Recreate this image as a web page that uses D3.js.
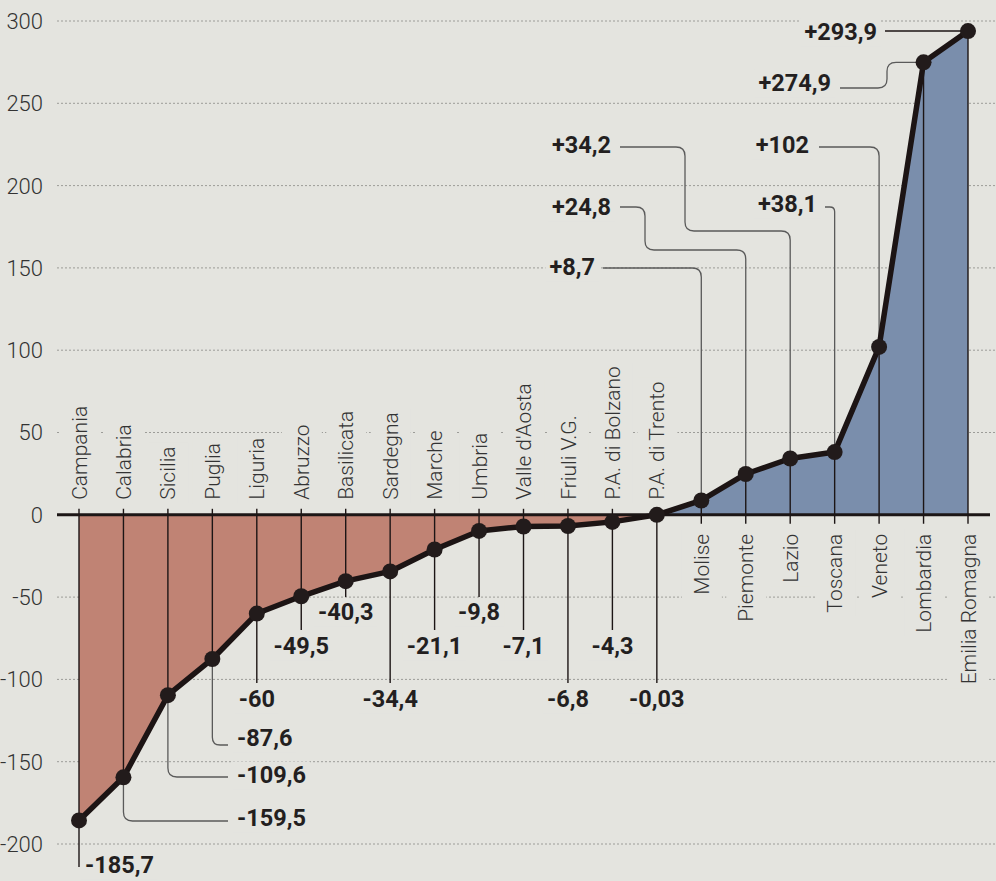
<!DOCTYPE html>
<html>
<head>
<meta charset="utf-8">
<title>Regioni</title>
<style>
  body { margin: 0; background: #e4e4df; }
  svg { display: block; }
  .ytick { font-family: Roboto, sans-serif; font-weight: 300; font-size: 22px; fill: #333; }
  .cat { font-family: Roboto, sans-serif; font-weight: 300; font-size: 21px; fill: #333; }
  .val { font-family: Roboto, sans-serif; font-weight: 700; font-size: 23.5px; fill: #231f1f; }
</style>
</head>
<body>
<div id="chart"></div>
<script src="https://d3js.org/d3.v7.min.js"></script>
<script>

// data
var regions = ["Campania", "Calabria", "Sicilia", "Puglia", "Liguria", "Abruzzo", "Basilicata",
  "Sardegna", "Marche", "Umbria", "Valle d'Aosta", "Friuli V.G.", "P.A. di Bolzano", "P.A. di Trento",
  "Molise", "Piemonte", "Lazio", "Toscana", "Veneto", "Lombardia", "Emilia Romagna"];
var values = [-185.7, -159.5, -109.6, -87.6, -60, -49.5, -40.3, -34.4, -21.1, -9.8, -7.1, -6.8, -4.3, -0.03,
  8.7, 24.8, 34.2, 38.1, 102, 274.9, 293.9];
var valueLabels = ["-185,7", "-159,5", "-109,6", "-87,6", "-60", "-49,5", "-40,3", "-34,4", "-21,1", "-9,8",
  "-7,1", "-6,8", "-4,3", "-0,03", "+8,7", "+24,8", "+34,2", "+38,1", "+102", "+274,9", "+293,9"];
var yTicks = [-200, -150, -100, -50, 0, 50, 100, 150, 200, 250, 300];

// annotation layout (pixels): leader path after the point, text position and anchor
var notes = [
  {path: [[0, 867]], tx: 85, ty: 865, anchor: "start", dark: true},
  {path: [[0, 821], [228, 821]], tx: 237, ty: 818, anchor: "start"},
  {path: [[0, 777], [228, 777]], tx: 237, ty: 775, anchor: "start"},
  {path: [[0, 745], [228, 745]], tx: 237, ty: 738, anchor: "start"},
  {path: [[0, 683]], ty: 699, anchor: "middle", dark: true},
  {path: [[0, 630]], ty: 646, anchor: "middle", dark: true},
  {path: [[0, 597]], ty: 612, anchor: "middle", dark: true},
  {path: [[0, 683]], ty: 699, anchor: "middle", dark: true},
  {path: [[0, 630]], ty: 646, anchor: "middle", dark: true},
  {path: [[0, 597]], ty: 612, anchor: "middle", dark: true},
  {path: [[0, 630]], ty: 646, anchor: "middle", dark: true},
  {path: [[0, 683]], ty: 699, anchor: "middle", dark: true},
  {path: [[0, 630]], ty: 646, anchor: "middle", dark: true},
  {path: [[0, 683]], ty: 699, anchor: "middle", dark: true},
  {path: [[0, 268], [603, 268]], tx: 595, ty: 267, anchor: "end"},
  {path: [[0, 250], [645, 250], [645, 207], [620, 207]], tx: 611, ty: 207, anchor: "end"},
  {path: [[0, 231], [685, 231], [685, 147], [620, 147]], tx: 611, ty: 145, anchor: "end"},
  {path: [[0, 207], [825, 207]], tx: 817, ty: 204, anchor: "end"},
  {path: [[0, 147], [819, 147]], tx: 809, ty: 145, anchor: "end"},
  {path: [[887, null], [887, 88], [840, 88]], tx: 831, ty: 83, anchor: "end"},
  {path: [[885, null]], tx: 877, ty: 32, anchor: "end", dark: true}
];

var width = 996, height = 881;

var svg = d3.select("#chart").append("svg")
  .attr("width", width)
  .attr("height", height);

svg.append("rect").attr("width", width).attr("height", height).attr("fill", "#e4e4df");

var x = d3.scalePoint().domain(regions).range([79, 968]);
var y = d3.scaleLinear().domain([-200, 300]).range([844, 21]);

var data = regions.map(function(r, i){ return {name: r, v: values[i], label: valueLabels[i], note: notes[i]}; });

// grid
svg.selectAll(".grid")
  .data(yTicks.filter(function(d){ return d !== 0; }))
  .enter().append("line")
  .attr("x1", 57).attr("x2", width)
  .attr("y1", function(d){ return y(d); })
  .attr("y2", function(d){ return y(d); })
  .attr("stroke", "#9c9c98")
  .attr("stroke-width", 1)
  .attr("stroke-dasharray", "2,2");

svg.selectAll(".ytick")
  .data(yTicks)
  .enter().append("text")
  .attr("class", "ytick")
  .attr("x", 43)
  .attr("y", function(d){ return y(d); })
  .attr("dy", "0.36em")
  .attr("text-anchor", "end")
  .text(function(d){ return d; });

// label layer (boxes hide grid)
var labelLayer = svg.append("g");

// areas
var area = d3.area()
  .x(function(d){ return x(d.name); })
  .y0(y(0))
  .y1(function(d){ return y(d.v); });

svg.append("path").datum(data.slice(0, 14))
  .attr("d", area).attr("fill", "#c08374");
svg.append("path").datum(data.slice(13))
  .attr("d", area).attr("fill", "#7a8eac");

// vertical lines from axis to each point
svg.selectAll(".stem")
  .data(data)
  .enter().append("line")
  .attr("x1", function(d){ return x(d.name); })
  .attr("x2", function(d){ return x(d.name); })
  .attr("y1", function(d){ return d.v < 0 ? y(0) - 6 : y(0) + 9; })
  .attr("y2", function(d){ return y(d.v); })
  .attr("stroke", "#1c1515")
  .attr("stroke-width", 1.4);

// zero line
svg.append("line")
  .attr("x1", 57).attr("x2", 990)
  .attr("y1", y(0)).attr("y2", y(0))
  .attr("stroke", "#1c1616")
  .attr("stroke-width", 3);

// leaders with rounded corners
function rounded(pts, r){
  var s = "M" + pts[0][0] + "," + pts[0][1];
  for (var i = 1; i < pts.length - 1; i++){
    var p0 = pts[i-1], p1 = pts[i], p2 = pts[i+1];
    var d1 = Math.hypot(p1[0]-p0[0], p1[1]-p0[1]), d2 = Math.hypot(p2[0]-p1[0], p2[1]-p1[1]);
    var rr = Math.min(r, d1/2, d2/2);
    var a = [p1[0] - (p1[0]-p0[0]) / d1 * rr, p1[1] - (p1[1]-p0[1]) / d1 * rr];
    var b = [p1[0] + (p2[0]-p1[0]) / d2 * rr, p1[1] + (p2[1]-p1[1]) / d2 * rr];
    s += "L" + a[0] + "," + a[1] + "Q" + p1[0] + "," + p1[1] + " " + b[0] + "," + b[1];
  }
  var last = pts[pts.length - 1];
  return s + "L" + last[0] + "," + last[1];
}

svg.selectAll(".leader")
  .data(data)
  .enter().append("path")
  .attr("fill", "none")
  .attr("stroke", function(d){ return d.note.dark ? "#1c1515" : "#5a5a5a"; })
  .attr("stroke-width", function(d){ return d.note.dark ? 1.4 : 1.3; })
  .attr("d", function(d){
    var px = x(d.name), py = y(d.v);
    var pts = [[px, py]].concat(d.note.path.map(function(p){
      return [p[0] === 0 ? px : p[0], p[1] === null ? py : p[1]];
    }));
    return rounded(pts, 9);
  });

// line and points
var line = d3.line()
  .x(function(d){ return x(d.name); })
  .y(function(d){ return y(d.v); });

svg.append("path").datum(data)
  .attr("d", line)
  .attr("fill", "none")
  .attr("stroke", "#1c1414")
  .attr("stroke-width", 5.5)
  .attr("stroke-linejoin", "round");

svg.selectAll(".dot")
  .data(data)
  .enter().append("circle")
  .attr("cx", function(d){ return x(d.name); })
  .attr("cy", function(d){ return y(d.v); })
  .attr("r", 8)
  .attr("fill", "#221b1b");

// category labels
data.forEach(function(d){
  var neg = d.v < 0;
  var g = labelLayer.append("g")
    .attr("transform", "translate(" + x(d.name) + "," + (neg ? y(0) - 15 : y(0) + 19) + ") rotate(-90)");
  var t = g.append("text")
    .attr("class", "cat")
    .attr("dy", "0.36em")
    .attr("text-anchor", neg ? "start" : "end")
    .text(d.name);
  var bb = t.node().getBBox();
  g.insert("rect", "text")
    .attr("x", bb.x - 4).attr("y", bb.y - 8)
    .attr("width", bb.width + 8).attr("height", bb.height + 16)
    .attr("fill", "#e4e4df");
});

// value labels
data.forEach(function(d){
  var t = svg.append("text")
    .attr("class", "val")
    .attr("x", d.note.tx !== undefined ? d.note.tx : x(d.name))
    .attr("y", d.note.ty)
    .attr("dy", "0.36em")
    .attr("text-anchor", d.note.anchor)
    .text(d.label);
  var bb = t.node().getBBox();
  svg.insert("rect", "text.val")
    .attr("x", bb.x - 4).attr("y", bb.y)
    .attr("width", bb.width + 8).attr("height", bb.height)
    .attr("fill", "#e4e4df");
});

</script>
</body>
</html>
